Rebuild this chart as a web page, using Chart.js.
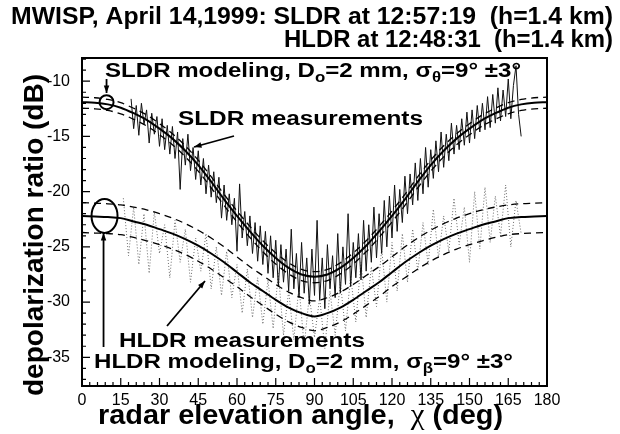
<!DOCTYPE html>
<html>
<head>
<meta charset="utf-8">
<script src="https://cdn.jsdelivr.net/npm/chart.js@4.4.1/dist/chart.umd.min.js"></script>
<style>
  body { margin: 0; background: #fff; }
  #wrap { width: 620px; height: 434px; }
</style>
</head>
<body>
<div id="wrap"><canvas id="ldr" width="620" height="434"></canvas></div>
<script>
// model curves, every 5 deg of elevation
const angles = [0,5,10,15,20,25,30,35,40,45,50,55,60,65,70,75,80,85,90,
  95,100,105,110,115,120,125,130,135,140,145,150,155,160,165,170,175,180];
const sldrModel = [-11.9,-11.95,-12.1,-12.4,-12.9,-13.5,-14.3,-15.2,-16.3,-17.6,-19.1,-20.7,-22.2,-23.6,-24.9,-26.0,-26.9,-27.5,-27.7,
  -27.5,-26.9,-26.0,-24.9,-23.6,-22.2,-20.7,-19.1,-17.6,-16.3,-15.2,-14.3,-13.5,-12.9,-12.4,-12.1,-11.95,-11.9];
const sldrUpper = [-11.45,-11.5,-11.65,-11.95,-12.45,-13.05,-13.85,-14.75,-15.85,-17.15,-18.65,-20.25,-21.75,-23.15,-24.45,-25.55,-26.45,-27.05,-27.25,
  -27.05,-26.45,-25.55,-24.45,-23.15,-21.75,-20.25,-18.65,-17.15,-15.85,-14.75,-13.85,-13.05,-12.45,-11.95,-11.65,-11.5,-11.45];
const sldrLower = [-12.45,-12.5,-12.65,-12.95,-13.45,-14.05,-14.85,-15.75,-16.85,-18.15,-19.65,-21.25,-22.75,-24.15,-25.45,-26.55,-27.45,-28.05,-28.25,
  -28.05,-27.45,-26.55,-25.45,-24.15,-22.75,-21.25,-19.65,-18.15,-16.85,-15.75,-14.85,-14.05,-13.45,-12.95,-12.65,-12.5,-12.45];
const hldrModel = [-22.2,-22.25,-22.3,-22.4,-22.7,-23.0,-23.4,-23.8,-24.3,-24.9,-25.6,-26.4,-27.3,-28.2,-29.0,-29.8,-30.5,-31.0,-31.3,
  -31.0,-30.5,-29.8,-29.0,-28.2,-27.3,-26.4,-25.6,-24.9,-24.3,-23.8,-23.4,-23.0,-22.7,-22.4,-22.3,-22.25,-22.2];
const hldrUpper = [-21.0,-21.05,-21.1,-21.2,-21.4,-21.65,-22.0,-22.4,-22.9,-23.5,-24.2,-25.0,-25.9,-26.8,-27.6,-28.4,-29.1,-29.6,-29.9,
  -29.6,-29.1,-28.4,-27.6,-26.8,-25.9,-25.0,-24.2,-23.5,-22.9,-22.4,-22.0,-21.65,-21.4,-21.2,-21.1,-21.05,-21.0];
const hldrLower = [-23.7,-23.75,-23.8,-23.9,-24.15,-24.45,-24.8,-25.2,-25.7,-26.3,-27.0,-27.8,-28.6,-29.5,-30.3,-31.1,-31.8,-32.3,-32.6,
  -32.3,-31.8,-31.1,-30.3,-29.5,-28.6,-27.8,-27.0,-26.3,-25.7,-25.2,-24.8,-24.45,-24.15,-23.9,-23.8,-23.75,-23.7];

// SLDR measurements, one reading per degree from 19 to 170 deg
const sldrMeasStart = 19;
const sldrMeas = [
  -11.6,-14.3,-12.2,-14.9,-12.0,-13.9,-12.6,-15.6,-12.9,-14.8,
  -13.2,-15.9,-13.4,-16.2,-14.0,-16.6,-14.1,-17.0,-14.6,-19.8,
  -15.2,-17.6,-14.8,-18.1,-16.0,-18.9,-16.3,-19.4,-17.0,-20.2,
  -17.6,-20.5,-18.2,-21.0,-18.7,-22.4,-19.4,-22.6,-20.2,-23.0,
  -20.6,-25.4,-19.3,-24.2,-21.8,-24.9,-22.2,-25.6,-22.8,-26.3,
  -23.1,-26.6,-23.6,-27.4,-24.0,-27.8,-24.4,-28.6,-24.8,-28.2,
  -25.2,-29.0,-23.4,-28.8,-25.6,-29.6,-24.6,-29.2,-26.0,-30.2,
  -25.2,-29.4,-22.6,-29.8,-26.0,-30.6,-24.8,-28.8,-25.8,-29.6,
  -23.8,-29.2,-25.0,-28.4,-22.0,-28.6,-24.6,-27.8,-23.8,-28.0,
  -22.6,-27.2,-23.0,-26.4,-21.4,-26.0,-22.0,-25.6,-20.8,-25.0,
  -20.4,-24.2,-19.4,-23.6,-19.8,-22.8,-18.6,-22.0,-18.4,-21.2,
  -17.4,-20.8,-17.0,-20.2,-16.0,-19.6,-16.2,-18.8,-15.4,-18.2,
  -14.6,-17.8,-14.8,-17.2,-13.8,-16.6,-14.0,-16.2,-13.4,-15.8,
  -12.8,-15.6,-12.6,-15.2,-12.2,-14.6,-12.0,-14.4,-11.4,-14.2,
  -11.2,-13.8,-10.6,-13.6,-10.8,-13.2,-9.8,-13.4,-10.4,-8.6,
  -13.0,-15.0];

// HLDR measurements, every 2 deg from 16 to 170 deg
const hldrMeasAngles = [16,18,20,22,24,26,28,30,32,34,36,38,40,42,44,46,48,50,52,54,56,58,60,62,64,66,68,70,72,74,76,78,80,
  82,84,86,88,90,92,94,96,98,100,102,104,106,108,110,112,114,116,118,120,122,124,126,128,130,132,134,136,138,140,
  142,144,146,148,150,152,154,156,158,160,162,164,166,168,170];
const hldrMeas = [-20.6,-25.8,-21.4,-26.6,-22.0,-27.4,-21.8,-25.6,-23.0,-27.8,-22.6,-26.4,-23.4,-28.2,-24.2,-27.2,-23.8,-28.8,
  -25.0,-29.4,-25.4,-29.6,-26.6,-31.0,-27.0,-31.4,-27.8,-32.0,-28.0,-32.4,-27.4,-33.0,-29.0,-33.4,-28.6,-34.0,-29.4,-33.2,
  -29.6,-34.2,-29.0,-33.0,-28.2,-32.6,-27.6,-31.8,-26.4,-31.4,-26.8,-30.4,-25.2,-30.0,-24.6,-29.0,-23.8,-28.2,-23.4,-27.2,
  -22.8,-26.6,-21.6,-26.0,-22.2,-25.4,-20.6,-24.8,-21.4,-26.4,-20.0,-25.2,-19.6,-24.6,-20.4,-24.0,-19.4,-25.0,-20.8,-23.8];

const xTicks = [0,15,30,45,60,75,90,105,120,135,150,165,180];
const yTicks = [-35,-30,-25,-20,-15,-10];

function pts(xs, ys) { return xs.map((x, i) => ({ x: x, y: ys[i] })); }

function modelSet(xs, ys, dashed) {
  return {
    data: pts(xs, ys),
    borderColor: '#000',
    borderWidth: dashed ? 1.3 : 2,
    borderDash: dashed ? [7, 5] : [],
    pointRadius: 0,
    tension: 0.4,
    cubicInterpolationMode: 'monotone'
  };
}

const FONT = '"Liberation Sans", Arial, sans-serif';

// draw text pieces [text, font, dy] squeezed/stretched to span x0..x1
function fitRun(ctx, x0, x1, y, parts) {
  let w = 0;
  parts.forEach(p => { ctx.font = p[1]; w += ctx.measureText(p[0]).width; });
  ctx.save();
  ctx.translate(x0, y);
  ctx.scale((x1 - x0) / w, 1);
  let x = 0;
  parts.forEach(p => {
    ctx.font = p[1];
    ctx.fillText(p[0], x, p[2] || 0);
    x += ctx.measureText(p[0]).width;
  });
  ctx.restore();
}

function arrow(ctx, x1, y1, x2, y2) {
  ctx.beginPath();
  ctx.moveTo(x1, y1);
  ctx.lineTo(x2, y2);
  ctx.stroke();
  const a = Math.atan2(y2 - y1, x2 - x1);
  ctx.beginPath();
  ctx.moveTo(x2, y2);
  ctx.lineTo(x2 - 8 * Math.cos(a - 0.35), y2 - 8 * Math.sin(a - 0.35));
  ctx.lineTo(x2 - 8 * Math.cos(a + 0.35), y2 - 8 * Math.sin(a + 0.35));
  ctx.closePath();
  ctx.fill();
}

const decor = {
  id: 'decor',
  afterDatasetsDraw(chart) {
    const ctx = chart.ctx;
    const a = chart.chartArea;
    const xs = chart.scales.x, ys = chart.scales.y;
    ctx.save();
    ctx.strokeStyle = '#000';
    ctx.fillStyle = '#000';
    ctx.textAlign = 'left';
    ctx.textBaseline = 'alphabetic';

    // frame
    ctx.lineWidth = 2;
    ctx.strokeRect(a.left, a.top, a.right - a.left, a.bottom - a.top);

    // inward ticks
    ctx.lineWidth = 1.2;
    ctx.beginPath();
    for (let v = 0; v <= 180; v += 3) {
      const px = xs.getPixelForValue(v);
      const len = v % 15 === 0 ? 8 : 4;
      ctx.moveTo(px, a.bottom);
      ctx.lineTo(px, a.bottom - len);
    }
    for (let v = -37; v <= -8; v += 1) {
      const py = ys.getPixelForValue(v);
      const len = v % 5 === 0 ? 8 : 4;
      ctx.moveTo(a.left, py);
      ctx.lineTo(a.left + len, py);
    }
    ctx.stroke();

    // title
    const tf = 'bold 24px ' + FONT;
    fitRun(ctx, 11, 613, 24, [['MWISP, April 14,1999: SLDR at 12:57:19  (h=1.4 km)', tf]]);
    fitRun(ctx, 284, 613, 47, [['HLDR at 12:48:31  (h=1.4 km)', tf]]);

    // annotations
    const big = 'bold 20px ' + FONT;
    const sub = 'bold 14px ' + FONT;
    fitRun(ctx, 105, 521, 77, [['SLDR modeling, D', big], ['o', sub, 5], ['=2 mm, σ', big], ['θ', sub, 5], ['=9° ±3°', big]]);
    fitRun(ctx, 178, 423, 125, [['SLDR measurements', big]]);
    fitRun(ctx, 119, 365, 347, [['HLDR measurements', big]]);
    fitRun(ctx, 94, 513, 368, [['HLDR modeling, D', big], ['o', sub, 5], ['=2 mm, σ', big], ['β', sub, 5], ['=9° ±3°', big]]);

    // circle + ellipse markers around the model start values
    const cx = xs.getPixelForValue(9.5);
    ctx.lineWidth = 2;
    ctx.beginPath();
    ctx.arc(cx, ys.getPixelForValue(sldrModel[0]), 7, 0, Math.PI * 2);
    ctx.stroke();
    ctx.beginPath();
    ctx.ellipse(cx - 2, ys.getPixelForValue(hldrModel[0]), 13, 17, 0, 0, Math.PI * 2);
    ctx.stroke();

    ctx.lineWidth = 1.8;
    arrow(ctx, cx, 79, cx, 93);
    arrow(ctx, cx - 3, 347, cx - 3, 233);
    arrow(ctx, 234, 136, 194, 147);
    arrow(ctx, 167, 326, 205, 281);

    // axis titles
    ctx.save();
    ctx.translate(43, 396);
    ctx.rotate(-Math.PI / 2);
    fitRun(ctx, 0, 322, 0, [['depolarization ratio (dB)', 'bold 27px ' + FONT]]);
    ctx.restore();

    fitRun(ctx, 98, 503, 424, [['radar elevation angle,  ', 'bold 27px ' + FONT],
      ['χ', '29px "Liberation Serif", serif'], [' (deg)', 'bold 27px ' + FONT]]);
    ctx.restore();
  }
};

new Chart(document.getElementById('ldr'), {
  type: 'line',
  data: {
    datasets: [
      modelSet(angles, sldrModel, false),
      modelSet(angles, sldrUpper, true),
      modelSet(angles, sldrLower, true),
      modelSet(angles, hldrModel, false),
      modelSet(angles, hldrUpper, true),
      modelSet(angles, hldrLower, true),
      {
        data: sldrMeas.map((v, i) => ({ x: sldrMeasStart + i, y: v })),
        borderColor: '#111',
        borderWidth: 1,
        pointRadius: 0,
        tension: 0
      },
      {
        data: pts(hldrMeasAngles, hldrMeas),
        borderColor: '#6a6a6a',
        borderWidth: 1,
        borderDash: [1, 2],
        pointRadius: 0,
        tension: 0
      }
    ]
  },
  options: {
    responsive: false,
    animation: false,
    devicePixelRatio: 1,
    layout: { padding: { left: 0, right: 73, top: 58, bottom: 0 } },
    plugins: { legend: { display: false }, tooltip: { enabled: false } },
    scales: {
      x: {
        type: 'linear',
        min: 0,
        max: 180,
        afterFit: s => { s.height = 48; },
        afterBuildTicks: s => { s.ticks = xTicks.map(v => ({ value: v })); },
        grid: { display: false },
        border: { display: false },
        ticks: { padding: -3, color: '#000', maxRotation: 0, autoSkip: false,
          font: { family: FONT, size: 16 } }
      },
      y: {
        type: 'linear',
        min: -37.6,
        max: -7.9,
        afterFit: s => { s.width = 82; },
        afterBuildTicks: s => { s.ticks = yTicks.map(v => ({ value: v })); },
        grid: { display: false },
        border: { display: false },
        ticks: { padding: 4, color: '#000', font: { family: FONT, size: 16 } }
      }
    }
  },
  plugins: [decor]
});
</script>
</body>
</html>
